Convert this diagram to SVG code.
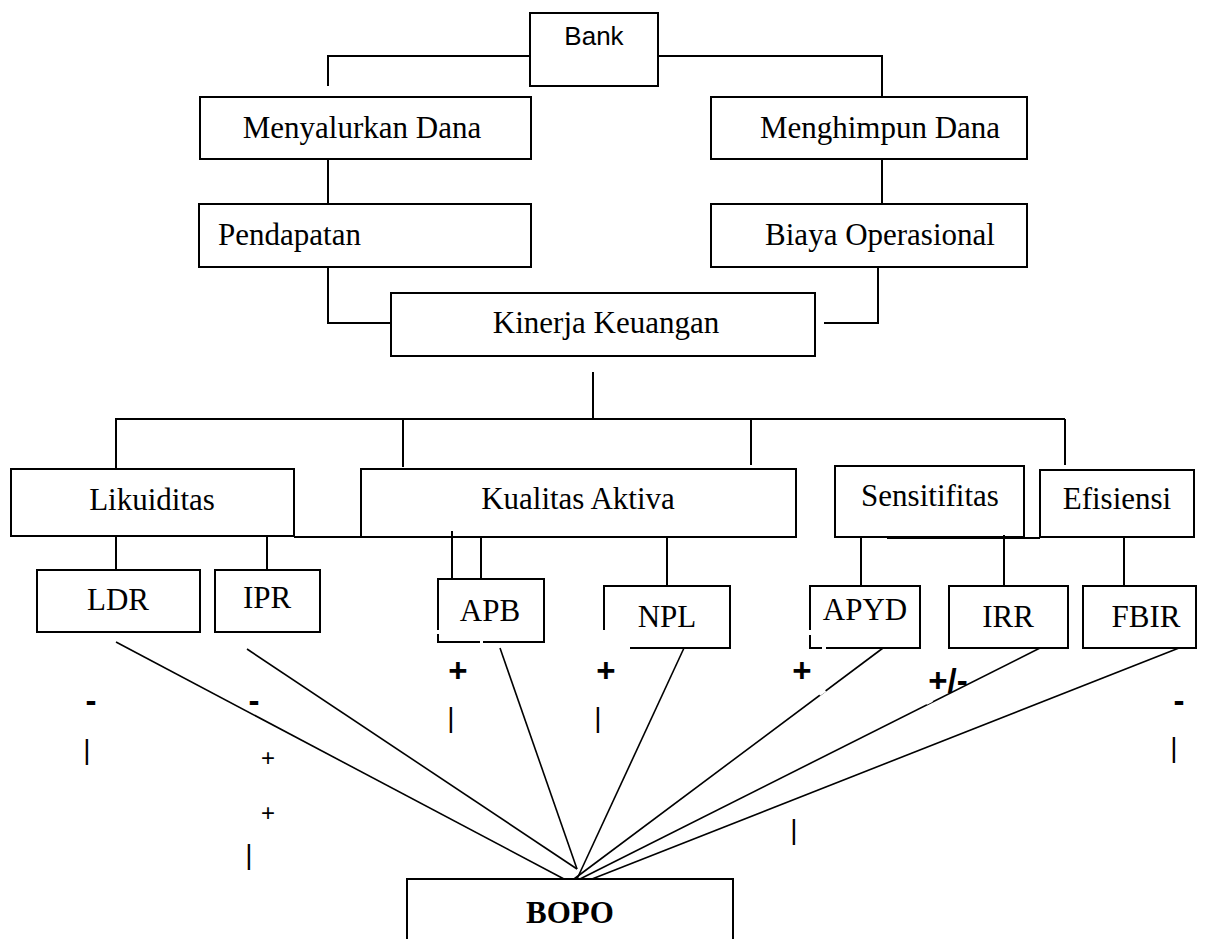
<svg xmlns="http://www.w3.org/2000/svg" width="1206" height="939" viewBox="0 0 1206 939">
<style>
.box{fill:none;stroke:#000;stroke-width:2}
.ln{fill:none;stroke:#000;stroke-width:2}
.dg{fill:none;stroke:#000;stroke-width:1.6}
.gap{fill:none;stroke:#fff;stroke-width:4}
.t{font-family:"Liberation Serif","Times New Roman",serif;font-size:31px;fill:#000;text-anchor:middle}
.sans{font-family:"Liberation Sans",Arial,sans-serif;fill:#000;text-anchor:middle}
.sign{font-family:"Liberation Sans",Arial,sans-serif;font-weight:bold;font-size:33px;fill:#000;text-anchor:middle}
.bar{font-family:"Liberation Sans",Arial,sans-serif;font-size:28px;fill:#000;text-anchor:middle}
.small{font-family:"Liberation Sans",Arial,sans-serif;font-size:24px;fill:#000;text-anchor:middle}
</style>
<rect width="1206" height="939" fill="#fff"/>
<g id="connectors">
<polyline class="ln" points="530,56 328,56 328,86"/>
<polyline class="ln" points="658,56 882,56 882,97"/>
<line class="ln" x1="328" y1="159" x2="328" y2="204"/>
<line class="ln" x1="882" y1="159" x2="882" y2="204"/>
<polyline class="ln" points="328,267 328,323 391,323"/>
<polyline class="ln" points="878,267 878,323 824,323"/>
<line class="ln" x1="593" y1="372" x2="593" y2="419"/>
<line class="ln" x1="115" y1="419" x2="1065" y2="419"/>
<line class="ln" x1="116" y1="419" x2="116" y2="469"/>
<line class="ln" x1="403" y1="419" x2="403" y2="467"/>
<line class="ln" x1="751" y1="419" x2="751" y2="465"/>
<line class="ln" x1="1065" y1="419" x2="1065" y2="465"/>
<line class="ln" x1="294" y1="537" x2="407" y2="537"/>
<line class="ln" x1="887" y1="538" x2="1040" y2="538"/>
<line class="ln" x1="116" y1="536" x2="116" y2="570"/>
<line class="ln" x1="267" y1="536" x2="267" y2="570"/>
<line class="ln" x1="452" y1="531" x2="452" y2="579"/>
<line class="ln" x1="481" y1="537" x2="481" y2="579"/>
<line class="ln" x1="667" y1="537" x2="667" y2="586"/>
<line class="ln" x1="861" y1="537" x2="861" y2="586"/>
<line class="ln" x1="1004" y1="535" x2="1004" y2="586"/>
<line class="ln" x1="1124" y1="537" x2="1124" y2="586"/>
<line class="dg" x1="116" y1="642" x2="564" y2="879"/>
<line class="dg" x1="247" y1="649" x2="577" y2="869"/>
<line class="dg" x1="500" y1="648" x2="577" y2="869"/>
<line class="dg" x1="684" y1="648" x2="577" y2="879"/>
<line class="dg" x1="883" y1="648" x2="574" y2="879"/>
<line class="dg" x1="1040" y1="648" x2="580" y2="879"/>
<line class="dg" x1="1179" y1="648" x2="592" y2="879"/>
<line class="gap" x1="825" y1="690" x2="819" y2="694"/>
<line class="gap" x1="976" y1="676" x2="970" y2="679"/>
<line class="gap" x1="932" y1="700" x2="926" y2="703"/>
</g>
<g id="bank"><rect class="box" x="530" y="13" width="128" height="73"/><text class="sans" x="594" y="45" font-size="26">Bank</text></g>
<g id="menyalurkan"><rect class="box" x="200" y="97" width="331" height="62"/><text class="t" x="362" y="138">Menyalurkan Dana</text></g>
<g id="menghimpun"><rect class="box" x="711" y="97" width="316" height="62"/><text class="t" x="880" y="138">Menghimpun Dana</text></g>
<g id="pendapatan"><rect class="box" x="199" y="204" width="332" height="63"/><text class="t" x="218" y="245" style="text-anchor:start">Pendapatan</text></g>
<g id="biaya"><rect class="box" x="711" y="204" width="316" height="63"/><text class="t" x="880" y="245">Biaya Operasional</text></g>
<g id="kinerja"><rect class="box" x="391" y="293" width="424" height="63"/><text class="t" x="606" y="333">Kinerja Keuangan</text></g>
<g id="likuiditas"><rect class="box" x="11" y="469" width="283" height="67"/><text class="t" x="152" y="510">Likuiditas</text></g>
<g id="kualitas"><rect class="box" x="361" y="469" width="435" height="68"/><text class="t" x="578" y="509">Kualitas Aktiva</text></g>
<g id="sensitifitas"><rect class="box" x="835" y="466" width="189" height="71"/><text class="t" x="930" y="506">Sensitifitas</text></g>
<g id="efisiensi"><rect class="box" x="1040" y="470" width="154" height="67"/><text class="t" x="1117" y="509">Efisiensi</text></g>
<g id="ldr"><rect class="box" x="37" y="570" width="163" height="62"/><text class="t" x="118" y="610">LDR</text></g>
<g id="ipr"><rect class="box" x="215" y="570" width="105" height="62"/><text class="t" x="267" y="608">IPR</text></g>
<g id="apb"><path class="box" d="M438,630 V579 H544 V642 H483 M480,642 H438 V634"/><text class="t" x="490" y="621">APB</text></g>
<g id="npl"><path class="box" d="M604,630 V586 H730 V648 H630"/><text class="t" x="667" y="627">NPL</text></g>
<g id="apyd"><path class="box" d="M810,630 V586 H920 V648 H826 M822,648 H810 V635"/><text class="t" x="865" y="620">APYD</text></g>
<g id="irr"><rect class="box" x="949" y="586" width="119" height="62"/><text class="t" x="1008" y="627">IRR</text></g>
<g id="fbir"><rect class="box" x="1083" y="586" width="113" height="62"/><text class="t" x="1146" y="627">FBIR</text></g>
<g id="bopo"><path class="box" d="M407,939 V879 H733 V939"/><text class="t" x="570" y="923" font-weight="bold" font-size="34">BOPO</text></g>
<g id="labels">
<text class="sign" x="91" y="712">-</text>
<text class="sign" x="254" y="712">-</text>
<text class="sign" x="458" y="682">+</text>
<text class="sign" x="606" y="682">+</text>
<text class="sign" x="802" y="682">+</text>
<text class="sign" x="948" y="692" font-size="34">+/-</text>
<text class="sign" x="1179" y="712">-</text>
<text class="bar" x="87" y="759">|</text>
<text class="bar" x="451" y="727">|</text>
<text class="bar" x="598" y="727">|</text>
<text class="bar" x="249" y="864">|</text>
<text class="bar" x="794" y="839">|</text>
<text class="bar" x="1174" y="757">|</text>
<text class="small" x="268" y="766">+</text>
<text class="small" x="268" y="821">+</text>
</g>
</svg>
